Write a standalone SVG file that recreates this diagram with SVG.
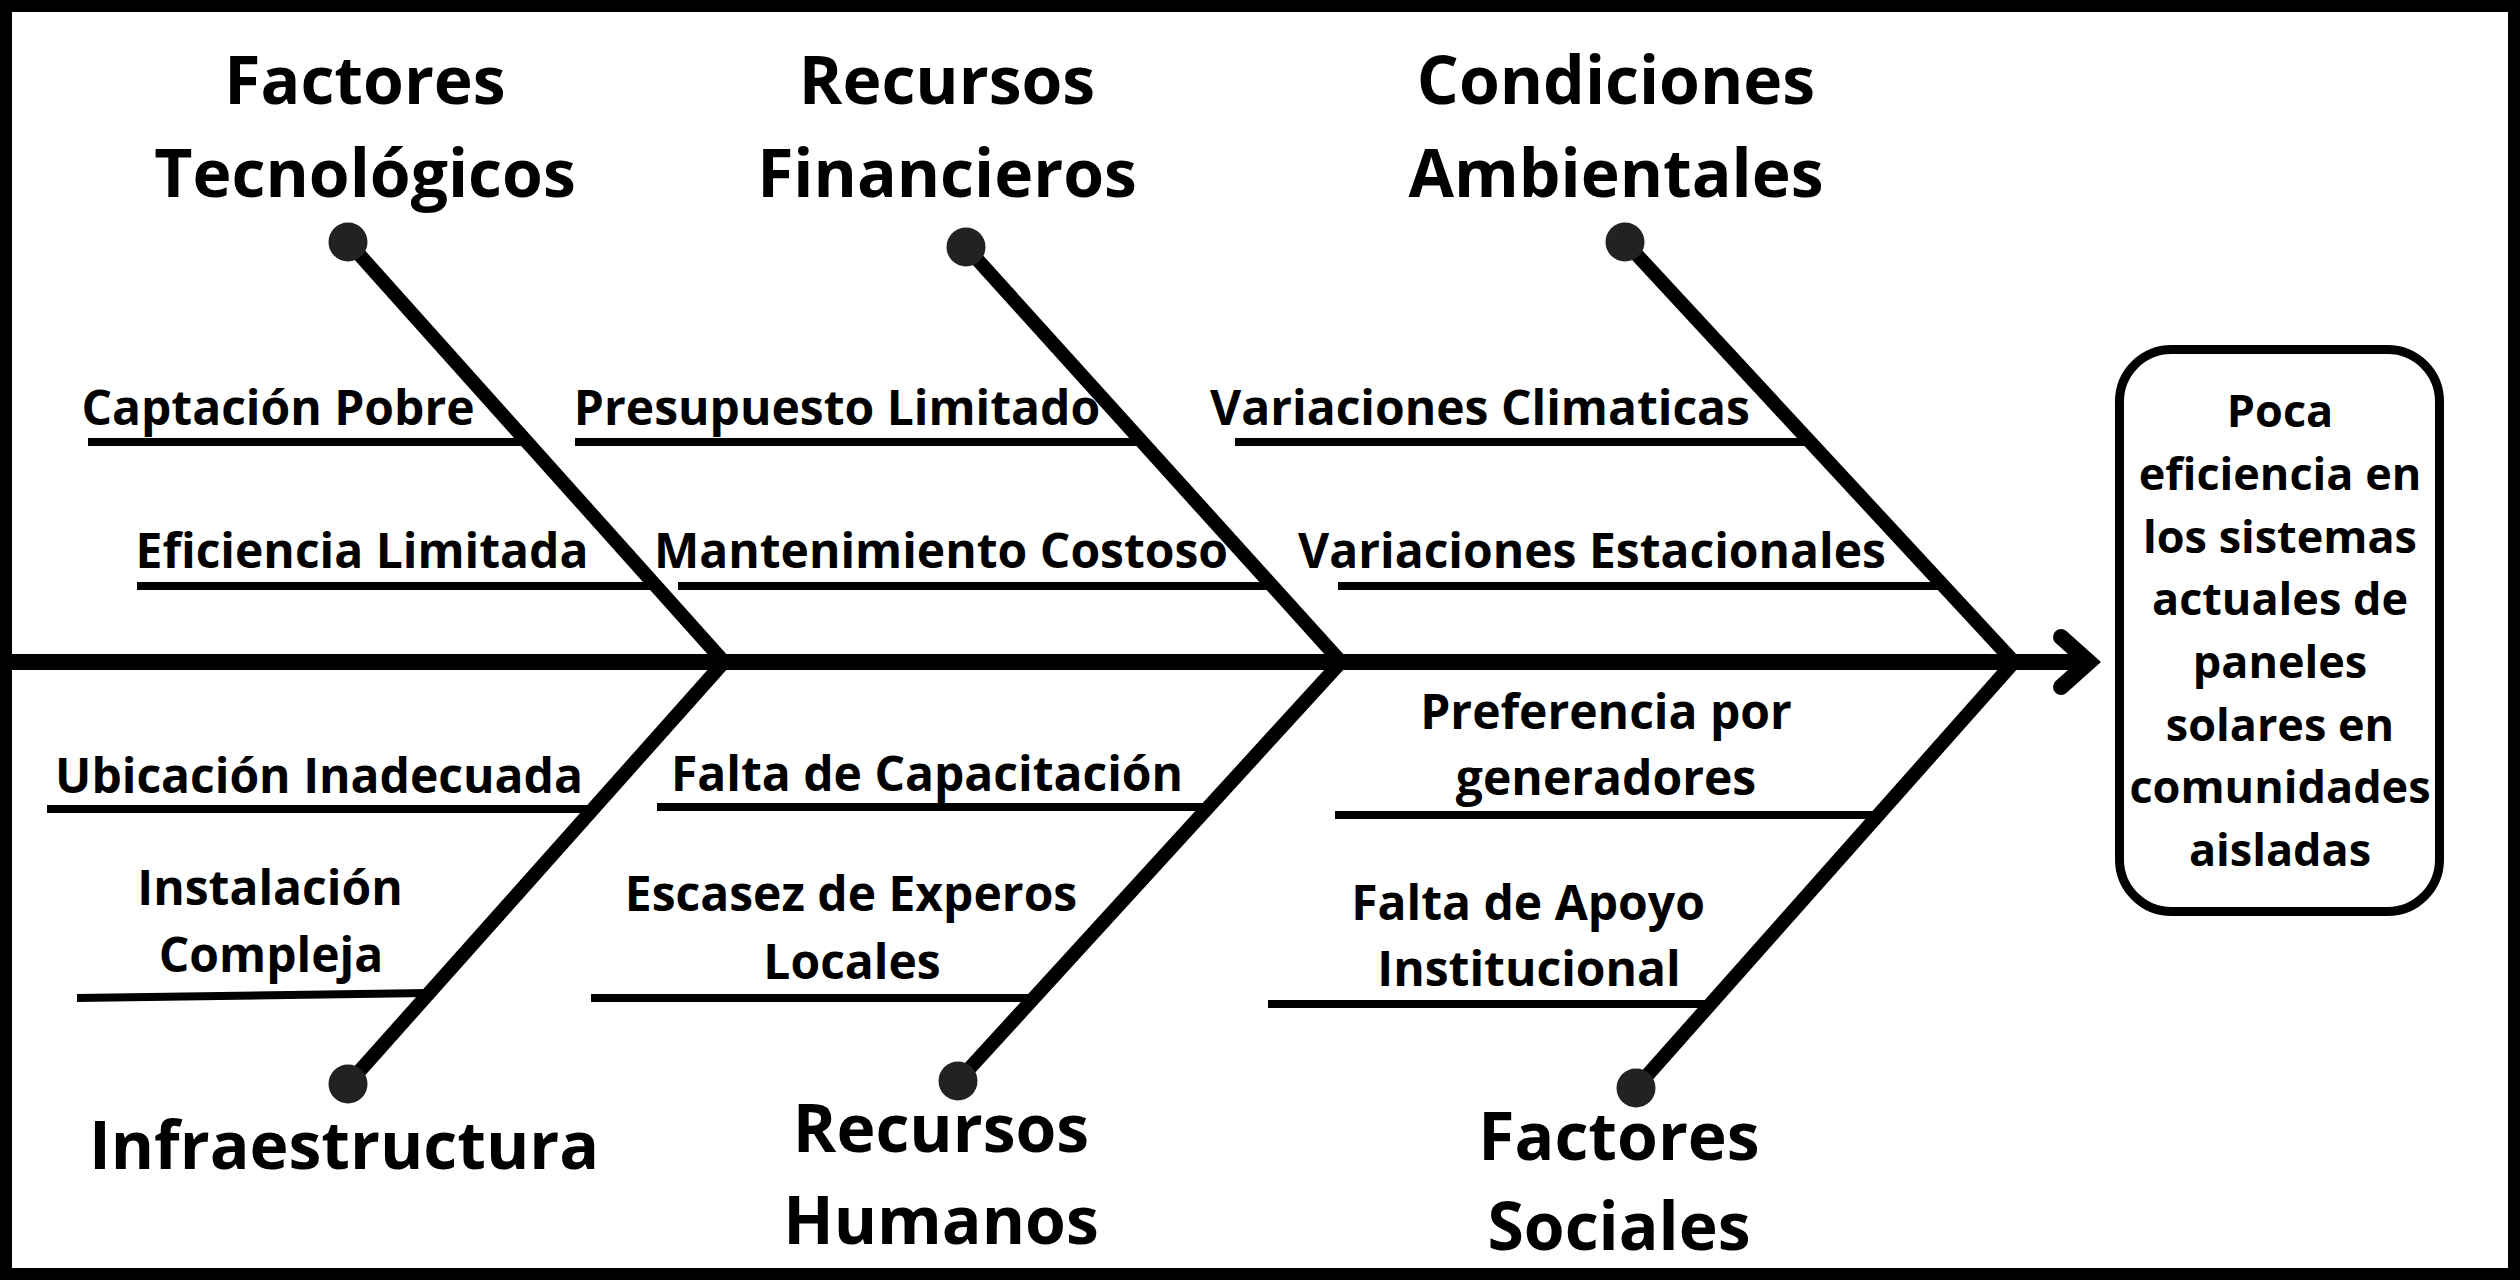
<svg xmlns="http://www.w3.org/2000/svg" width="2520" height="1280" viewBox="0 0 2520 1280">
<style>
.t{font-family:"Open Sans","Liberation Sans",sans-serif;font-weight:700;fill:#000;text-anchor:middle}
.title{font-size:66px}
.lab{font-size:48px}
.box{font-size:45px}
.bone{stroke:#000;stroke-width:14;fill:none}
.sub{stroke:#000;stroke-width:8;fill:none}
.dot{fill:#222}
</style>
<rect x="6" y="6" width="2508" height="1268" fill="#fff" stroke="#000" stroke-width="12"/>
<g id="connectors">
  <line x1="0" y1="662" x2="2090" y2="662" stroke="#000" stroke-width="16"/>
  <polyline points="2061,637 2089,662 2061,687" fill="none" stroke="#000" stroke-width="16" stroke-linecap="round" stroke-linejoin="miter"/>
  <line class="bone" x1="348" y1="242" x2="724" y2="662"/>
  <line class="bone" x1="966" y1="247" x2="1341" y2="662"/>
  <line class="bone" x1="1625" y1="242" x2="2014" y2="662"/>
  <line class="bone" x1="348" y1="1084" x2="724" y2="662"/>
  <line class="bone" x1="958" y1="1081" x2="1341" y2="662"/>
  <line class="bone" x1="1636" y1="1088" x2="2014" y2="662"/>
  <line class="sub" x1="88" y1="442" x2="526" y2="442"/>
  <line class="sub" x1="137" y1="586" x2="654" y2="586"/>
  <line class="sub" x1="575" y1="442" x2="1142" y2="442"/>
  <line class="sub" x1="678" y1="586" x2="1271" y2="586"/>
  <line class="sub" x1="1235" y1="442" x2="1810" y2="442"/>
  <line class="sub" x1="1338" y1="586" x2="1942" y2="586"/>
  <line class="sub" x1="47" y1="809" x2="592" y2="809"/>
  <line class="sub" x1="77" y1="998" x2="428" y2="993"/>
  <line class="sub" x1="657" y1="807" x2="1208" y2="807"/>
  <line class="sub" x1="591" y1="998" x2="1034" y2="998"/>
  <line class="sub" x1="1335" y1="815" x2="1878" y2="815"/>
  <line class="sub" x1="1268" y1="1004" x2="1710" y2="1004"/>
</g>
<g id="factores-tecnologicos">
  <circle class="dot" cx="348" cy="242" r="19.5"/>
  <text class="t title" x="365" y="104">Factores</text>
  <text class="t title" x="365" y="197">Tecnológicos</text>
  <text class="t lab" x="278" y="425">Captación Pobre</text>
  <text class="t lab" x="362" y="568">Eficiencia Limitada</text>
</g>
<g id="recursos-financieros">
  <circle class="dot" cx="966" cy="247" r="19.5"/>
  <text class="t title" x="947" y="104">Recursos</text>
  <text class="t title" x="947" y="197">Financieros</text>
  <text class="t lab" x="837" y="425">Presupuesto Limitado</text>
  <text class="t lab" x="941" y="568">Mantenimiento Costoso</text>
</g>
<g id="condiciones-ambientales">
  <circle class="dot" cx="1625" cy="242" r="19.5"/>
  <text class="t title" x="1616" y="104">Condiciones</text>
  <text class="t title" x="1616" y="197">Ambientales</text>
  <text class="t lab" x="1480" y="425">Variaciones Climaticas</text>
  <text class="t lab" x="1592" y="568">Variaciones Estacionales</text>
</g>
<g id="infraestructura">
  <circle class="dot" cx="348" cy="1084" r="19.5"/>
  <text class="t title" x="344" y="1169">Infraestructura</text>
  <text class="t lab" x="319" y="793">Ubicación Inadecuada</text>
  <text class="t lab" x="270" y="905">Instalación</text>
  <text class="t lab" x="271" y="972">Compleja</text>
</g>
<g id="recursos-humanos">
  <circle class="dot" cx="958" cy="1081" r="19.5"/>
  <text class="t title" x="941" y="1152">Recursos</text>
  <text class="t title" x="941" y="1244">Humanos</text>
  <text class="t lab" x="927" y="791">Falta de Capacitación</text>
  <text class="t lab" x="851" y="911">Escasez de Experos</text>
  <text class="t lab" x="852" y="979">Locales</text>
</g>
<g id="factores-sociales">
  <circle class="dot" cx="1636" cy="1088" r="19.5"/>
  <text class="t title" x="1619" y="1160">Factores</text>
  <text class="t title" x="1619" y="1250">Sociales</text>
  <text class="t lab" x="1606" y="729">Preferencia por</text>
  <text class="t lab" x="1606" y="795">generadores</text>
  <text class="t lab" x="1528" y="920">Falta de Apoyo</text>
  <text class="t lab" x="1529" y="986">Institucional</text>
</g>
<g id="problema">
  <rect x="2119.5" y="349.5" width="320" height="562" rx="52" fill="#fff" stroke="#000" stroke-width="9"/>
  <text class="t box" x="2280" y="427">Poca</text>
  <text class="t box" x="2280" y="490">eficiencia en</text>
  <text class="t box" x="2280" y="553">los sistemas</text>
  <text class="t box" x="2280" y="615">actuales de</text>
  <text class="t box" x="2280" y="678">paneles</text>
  <text class="t box" x="2280" y="741">solares en</text>
  <text class="t box" x="2280" y="803">comunidades</text>
  <text class="t box" x="2280" y="866">aisladas</text>
</g>
</svg>
